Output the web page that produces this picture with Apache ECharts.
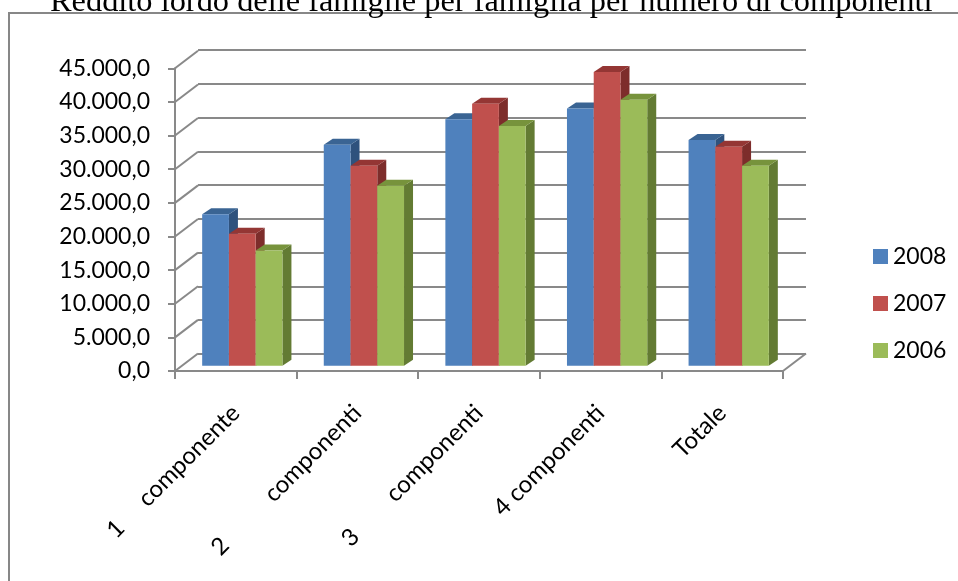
<!DOCTYPE html>
<html>
<head>
<meta charset="utf-8">
<script src="https://cdn.jsdelivr.net/npm/echarts@6/dist/echarts.min.js"></script>
<style>
html,body{margin:0;padding:0;background:#fff;}
#chart{width:958px;height:581px;}
</style>
</head>
<body>
<div id="chart"></div>
<script>
// ---- data ----
const titleText = 'Reddito lordo delle famiglie per famiglia per numero di componenti';
const categories = ['1     componente', '2          componenti', '3        componenti', '4 componenti', 'Totale'];
const years = ['2008', '2007', '2006'];
const values2008 = [22500, 32800, 36600, 38200, 33500];
const values2007 = [19600, 29700, 38900, 43600, 32500];
const values2006 = [17100, 26700, 35600, 39500, 29700];
const yMin = 0, yMax = 45000, yStep = 5000;
const yTickValues = [0, 5000, 10000, 15000, 20000, 25000, 30000, 35000, 40000, 45000];
const yTickLabels = ['0,0', '5.000,0', '10.000,0', '15.000,0', '20.000,0', '25.000,0', '30.000,0', '35.000,0', '40.000,0', '45.000,0'];

// ---- style ----
const LINE = '#898989';
const FONT = 'Lato';
const palette = [
  {front: '#4F81BD', top: '#3A6493', side: '#2F527D'},
  {front: '#C0504D', top: '#943634', side: '#7D2D2B'},
  {front: '#9BBB59', top: '#77933C', side: '#637B33'}
];
const BAR_FRAC = 0.22;
const DEPTH_X = 9, DEPTH_Y = -6;
const WALL_DX = 23, WALL_DY = -17.5;

const chart = echarts.init(document.getElementById('chart'), null, {renderer: 'canvas'});

function barRenderer(sIdx) {
  return function (params, api) {
    const ci = api.value(0), v = api.value(1);
    const b = api.coord([ci, 0]);
    const t = api.coord([ci, v]);
    const band = api.size([1, 0])[0];
    const w = band * BAR_FRAC;
    const x0 = b[0] + (sIdx - 1.5) * w;
    const x1 = x0 + w;
    const ty = t[1], by = b[1];
    const c = palette[sIdx];
    return {
      type: 'group',
      children: [
        {type: 'polygon', shape: {points: [[x1, ty], [x1 + DEPTH_X, ty + DEPTH_Y], [x1 + DEPTH_X, by + DEPTH_Y], [x1, by]]}, style: {fill: c.side}},
        {type: 'polygon', shape: {points: [[x0, ty], [x0 + DEPTH_X, ty + DEPTH_Y], [x1 + DEPTH_X, ty + DEPTH_Y], [x1, ty]]}, style: {fill: c.top}},
        {type: 'rect', shape: {x: x0, y: ty, width: w, height: by - ty}, style: {fill: c.front}}
      ]
    };
  };
}

const seriesValues = [values2008, values2007, values2006];
const barSeries = years.map((yr, s) => ({
  name: yr,
  type: 'custom',
  xAxisIndex: 2,
  yAxisIndex: 2,
  z: 5,
  itemStyle: {color: palette[s].front},
  renderItem: barRenderer(s),
  encode: {x: 0, y: 1},
  data: seriesValues[s].map((v, i) => [i, v])
}));

const wallSeries = {
  type: 'custom',
  xAxisIndex: 0,
  yAxisIndex: 0,
  z: 1,
  silent: true,
  renderItem: function (params, api) {
    const v = api.value(1);
    const p = api.coord([0, v]);
    const band = api.size([1, 0])[0];
    const x = p[0] - band / 2;
    return {type: 'line', shape: {x1: x, y1: p[1], x2: x + WALL_DX, y2: p[1] + WALL_DY}, style: {stroke: LINE, lineWidth: 2}};
  },
  data: yTickValues.map(v => [0, v])
};

const floorSeries = {
  type: 'custom',
  xAxisIndex: 0,
  yAxisIndex: 0,
  z: 1,
  silent: true,
  renderItem: function (params, api) {
    const p = api.coord([api.value(0), 0]);
    const band = api.size([1, 0])[0];
    const x = p[0] + band / 2;
    return {type: 'line', shape: {x1: x, y1: p[1], x2: x + WALL_DX, y2: p[1] + WALL_DY}, style: {stroke: LINE, lineWidth: 2}};
  },
  data: [[categories.length - 1, 0]]
};

const option = {
  animation: false,
  backgroundColor: '#fff',
  title: {
    text: titleText,
    left: 45,
    top: -19,
    textStyle: {fontFamily: 'Liberation Serif', fontSize: 32.4, fontWeight: 'normal', color: '#000'}
  },
  graphic: [{
    type: 'rect',
    shape: {x: 9, y: 13, width: 1000, height: 1000},
    style: {fill: 'none', stroke: '#878787', lineWidth: 2},
    silent: true,
    z: 0
  }],
  legend: {
    data: years,
    orient: 'vertical',
    left: 868,
    top: 240,
    icon: 'rect',
    itemWidth: 15,
    itemHeight: 15,
    itemGap: 24,
    textStyle: {fontFamily: FONT, fontSize: 23, lineHeight: 23, color: '#000'}
  },
  grid: [
    {left: 175, top: 68.3, width: 608, height: 302.7},
    {left: 198, top: 50, width: 608, height: 304},
    {left: 181.5, top: 62.6, width: 608, height: 303.1}
  ],
  xAxis: [
    {
      type: 'category', gridIndex: 0, data: categories, boundaryGap: true,
      axisLine: {show: true, lineStyle: {color: LINE, width: 2}},
      axisTick: {show: true, length: 8, interval: 0, lineStyle: {color: LINE, width: 2}},
      axisLabel: {interval: 0, rotate: 45, margin: 38, fontFamily: FONT, fontSize: 24, color: '#000'},
      splitLine: {show: false}
    },
    {type: 'category', gridIndex: 1, data: categories, show: false},
    {type: 'category', gridIndex: 2, data: categories, show: false}
  ],
  yAxis: [
    {
      type: 'value', gridIndex: 0, min: yMin, max: yMax, interval: yStep,
      axisLine: {show: true, lineStyle: {color: LINE, width: 2}},
      axisTick: {show: true, length: 7, lineStyle: {color: LINE, width: 2}},
      axisLabel: {margin: 25, fontFamily: FONT, fontSize: 23, color: '#000',
        formatter: v => yTickLabels[yTickValues.indexOf(v)]},
      splitLine: {show: false}
    },
    {
      type: 'value', gridIndex: 1, min: yMin, max: yMax, interval: yStep,
      axisLine: {show: false}, axisTick: {show: false}, axisLabel: {show: false},
      splitLine: {show: true, lineStyle: {color: LINE, width: 2}}
    },
    {
      type: 'value', gridIndex: 2, min: yMin, max: yMax, interval: yStep, show: false,
      splitLine: {show: false}
    }
  ],
  series: [wallSeries, floorSeries].concat(barSeries)
};

chart.setOption(option);
</script>
</body>
</html>
